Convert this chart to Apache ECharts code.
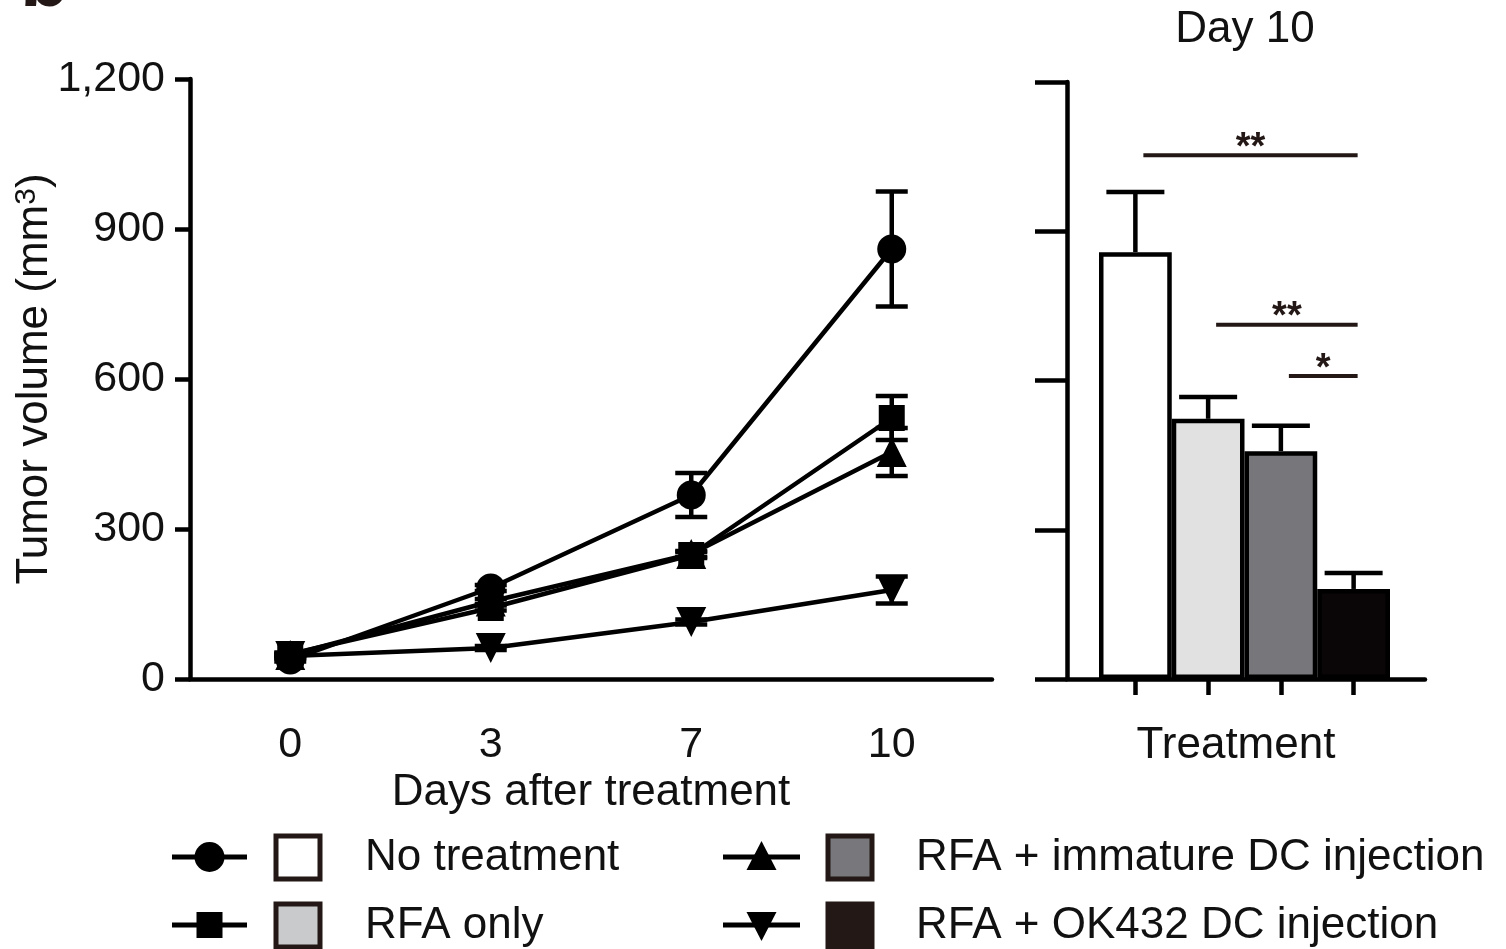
<!DOCTYPE html>
<html>
<head>
<meta charset="utf-8">
<script src="https://cdn.jsdelivr.net/npm/echarts@6/dist/echarts.min.js"></script>
<style>
html,body{margin:0;padding:0;background:#fff;}
#chart{width:1506px;height:949px;}
</style>
</head>
<body>
<div id="chart"></div>
<script>
// ---------- data ----------
const days = ['0', '3', '7', '10'];
const yTicks = [0, 300, 600, 900, 1200];

const noTreatment      = [38, 182, 368, 860];
const noTreatmentErr   = [3, 6, 44, 115];
const rfaOnly          = [50, 142, 248, 522];
const rfaOnlyErr       = [3, 5, 6, 44];
const rfaImmature      = [48, 155, 250, 454];
const rfaImmatureErr   = [3, 5, 6, 48];
const rfaOK432         = [46, 62, 114, 178];
const rfaOK432Err      = [3, 4, 5, 27];

const groups = ['No treatment', 'RFA only', 'RFA + immature DC injection', 'RFA + OK432 DC injection'];
const day10Means = [858, 523, 458, 181];
const day10Err   = [121, 44, 51, 32];

const sigFrom   = [0, 1, 2];
const sigTo     = [3, 3, 3];
const sigY      = [1053, 712, 609];
const sigLabels = ['**', '**', '*'];

// ---------- styles ----------
const FONT = 'Liberation Sans, Arial, Helvetica, sans-serif';
const INK = '#000';
const barColors = ['#ffffff', '#e2e1e2', '#77777b', '#0a0506'];
const legendBoxColors = ['#ffffff', '#c9cacc', '#78787c', '#231815'];
const lineSymbols = ['circle', 'rect', 'triangle', 'triangle'];
const lineSymbolRot = [0, 0, 0, 180];
const lineSymbolSize = [29, 26, 30, 30];

const lineSeriesData = [noTreatment, rfaOnly, rfaImmature, rfaOK432];
const lineErrData = [noTreatmentErr, rfaOnlyErr, rfaImmatureErr, rfaOK432Err];

const chart = echarts.init(document.getElementById('chart'), null, {renderer: 'canvas'});

function errRender(capHalf, upperOnly) {
  return function (params, api) {
    const x = api.value(0);
    const m = api.value(1);
    const lo = api.value(2);
    const hi = api.value(3);
    const pHi = api.coord([x, hi]);
    const pLo = api.coord([x, upperOnly ? m : lo]);
    const style = {stroke: INK, lineWidth: 4.5, fill: null};
    const children = [
      {type: 'line', shape: {x1: pHi[0], y1: pHi[1], x2: pLo[0], y2: pLo[1]}, style: style},
      {type: 'line', shape: {x1: pHi[0] - capHalf, y1: pHi[1], x2: pHi[0] + capHalf, y2: pHi[1]}, style: style}
    ];
    if (!upperOnly) {
      children.push({type: 'line', shape: {x1: pLo[0] - capHalf, y1: pLo[1], x2: pLo[0] + capHalf, y2: pLo[1]}, style: style});
    }
    return {type: 'group', children: children};
  };
}

const series = [];
const drawOrder = [0, 2, 3, 1];
drawOrder.forEach(function (k) {
  series.push({
    type: 'custom',
    xAxisIndex: 0, yAxisIndex: 0,
    renderItem: errRender(16, false),
    data: lineSeriesData[k].map(function (v, i) { return [i, v, v - lineErrData[k][i], v + lineErrData[k][i]]; }),
    z: 2,
    silent: true
  });
});
drawOrder.forEach(function (k) {
  series.push({
    type: 'line',
    name: groups[k],
    xAxisIndex: 0, yAxisIndex: 0,
    data: lineSeriesData[k],
    symbol: lineSymbols[k],
    symbolRotate: lineSymbolRot[k],
    symbolSize: lineSymbolSize[k],
    showAllSymbol: true,
    lineStyle: {color: INK, width: 4.5},
    itemStyle: {color: INK, borderWidth: 0},
    z: 3,
    clip: false,
    animation: false
  });
});

// bar chart
series.push({
  type: 'bar',
  xAxisIndex: 2, yAxisIndex: 2,
  barWidth: '100%',
  data: day10Means.map(function (v, i) {
    return {value: v, itemStyle: {color: barColors[i], borderColor: INK, borderWidth: 4.5}};
  }),
  z: 3,
  animation: false
});
series.push({
  type: 'custom',
  xAxisIndex: 2, yAxisIndex: 2,
  renderItem: errRender(29, true),
  data: day10Means.map(function (v, i) { return [i, v, v - day10Err[i], v + day10Err[i]]; }),
  z: 2,
  silent: true
});
// significance brackets
series.push({
  type: 'custom',
  xAxisIndex: 2, yAxisIndex: 2,
  renderItem: function (params, api) {
    const a = api.coord([api.value(0), api.value(2)]);
    const b = api.coord([api.value(1), api.value(2)]);
    return {
      type: 'group',
      children: [
        {type: 'line', shape: {x1: a[0] + 8, y1: a[1], x2: b[0] + 4, y2: b[1]}, style: {stroke: '#231815', lineWidth: 4}},
        {type: 'text', style: {text: sigLabels[params.dataIndex], x: (a[0] + 8 + b[0] + 4) / 2, y: a[1] + 12,
          align: 'center', verticalAlign: 'bottom', font: 'bold 38px ' + FONT, fill: '#231815'}}
      ]
    };
  },
  data: sigFrom.map(function (f, i) { return [f, sigTo[i], sigY[i]]; }),
  z: 4,
  silent: true
});

// legend graphics (layout only)
const legendChildren = [];
const colX = [172, 723];
const rowY = [857, 925];
groups.forEach(function (name, i) {
  const col = Math.floor(i / 2);
  const row = i % 2;
  const x0 = colX[col];
  const cy = rowY[row];
  const lineLen = col === 0 ? 75 : 77;
  const mx = x0 + lineLen / 2;
  legendChildren.push({type: 'line', shape: {x1: x0, y1: cy, x2: x0 + lineLen, y2: cy}, style: {stroke: INK, lineWidth: 5}});
  const s = lineSymbols[i];
  if (s === 'circle') {
    legendChildren.push({type: 'circle', shape: {cx: mx, cy: cy, r: 15}, style: {fill: INK}});
  } else if (s === 'rect') {
    legendChildren.push({type: 'rect', shape: {x: mx - 13, y: cy - 13, width: 26, height: 26}, style: {fill: INK}});
  } else if (lineSymbolRot[i] === 0) {
    legendChildren.push({type: 'polygon', shape: {points: [[mx, cy - 16], [mx + 15, cy + 13], [mx - 15, cy + 13]]}, style: {fill: INK}});
  } else {
    legendChildren.push({type: 'polygon', shape: {points: [[mx, cy + 16], [mx + 15, cy - 13], [mx - 15, cy - 13]]}, style: {fill: INK}});
  }
  const bx = x0 + (col === 0 ? 104 : 105);
  legendChildren.push({type: 'rect', shape: {x: bx, y: cy - 21, width: 44, height: 43},
    style: {fill: legendBoxColors[i], stroke: '#231815', lineWidth: 5}});
  legendChildren.push({type: 'text', style: {text: name, x: x0 + 193, y: cy + 1,
    verticalAlign: 'middle', font: '44px ' + FONT, fill: '#111'}});
});

const option = {
  backgroundColor: '#fff',
  animation: false,
  textStyle: {fontFamily: FONT},
  grid: [
    {left: 190, top: 79, width: 802, height: 600, containLabel: false, outerBoundsMode: 'none'},
    {left: 1067, top: 82, width: 358, height: 597, containLabel: false, outerBoundsMode: 'none'},
    {left: 1099, top: 82, width: 291, height: 597, containLabel: false, outerBoundsMode: 'none'}
  ],
  xAxis: [
    {
      type: 'category', gridIndex: 0, data: days, boundaryGap: true,
      axisLine: {lineStyle: {color: INK, width: 4.5}},
      axisTick: {alignWithLabel: true, interval: 0, length: 16, lineStyle: {color: INK, width: 4.5}},
      axisLabel: {fontSize: 43, color: '#111', margin: 45, fontFamily: FONT, interval: 0},
      name: 'Days after treatment', nameLocation: 'middle', nameGap: 92, nameMoveOverlap: false,
      nameTextStyle: {fontSize: 44, color: '#111', fontFamily: FONT}
    },
    {
      type: 'value', gridIndex: 1, min: 0, max: 1,
      axisLine: {lineStyle: {color: INK, width: 4.5}},
      axisTick: {show: false}, axisLabel: {show: false}, splitLine: {show: false},
      name: 'Treatment', nameLocation: 'middle', nameGap: 45, nameMoveOverlap: false,
      nameTextStyle: {fontSize: 44, color: '#111', fontFamily: FONT, padding: [0, 20, 0, 0]}
    },
    {
      type: 'category', gridIndex: 2, data: groups, boundaryGap: true,
      axisLine: {show: false},
      axisTick: {show: true, interval: 0, alignWithLabel: true, length: 16, lineStyle: {color: INK, width: 4.5}},
      axisLabel: {show: false, interval: 0}
    }
  ],
  yAxis: [
    {
      type: 'value', gridIndex: 0, min: yTicks[0], max: yTicks[yTicks.length - 1], interval: 300,
      axisLine: {show: true, lineStyle: {color: INK, width: 4.5}},
      axisTick: {show: true, length: 15, lineStyle: {color: INK, width: 4.5}},
      splitLine: {show: false},
      axisLabel: {fontSize: 43, color: '#111', margin: 25, fontFamily: FONT,
        formatter: function (v) { return v.toLocaleString('en-US'); }},
      name: 'Tumor volume (mm{sup|3})', nameLocation: 'middle', nameGap: 132, nameMoveOverlap: false,
      nameTextStyle: {fontSize: 44, color: '#111', fontFamily: FONT,
        rich: {sup: {fontSize: 30, color: '#111', verticalAlign: 'top', padding: [0, 0, 16, 0]}}}
    },
    {
      type: 'value', gridIndex: 1, min: 0, max: 1200, interval: 300,
      axisLine: {show: true, lineStyle: {color: INK, width: 4.5}},
      axisTick: {show: true, length: 32, lineStyle: {color: INK, width: 4.5}},
      splitLine: {show: false}, axisLabel: {show: false}
    },
    {
      type: 'value', gridIndex: 2, min: 0, max: 1200, show: false
    }
  ],
  graphic: [
    {type: 'text', left: 20, top: -56, style: {text: 'b', font: 'bold 80px ' + FONT, fill: '#231815'}},
    {type: 'text', x: 1245, y: 30, style: {text: 'Day 10', align: 'center', verticalAlign: 'middle', font: '44px ' + FONT, fill: '#111'}},
    {type: 'group', children: legendChildren}
  ],
  series: series
};
chart.setOption(option);
</script>
</body>
</html>
